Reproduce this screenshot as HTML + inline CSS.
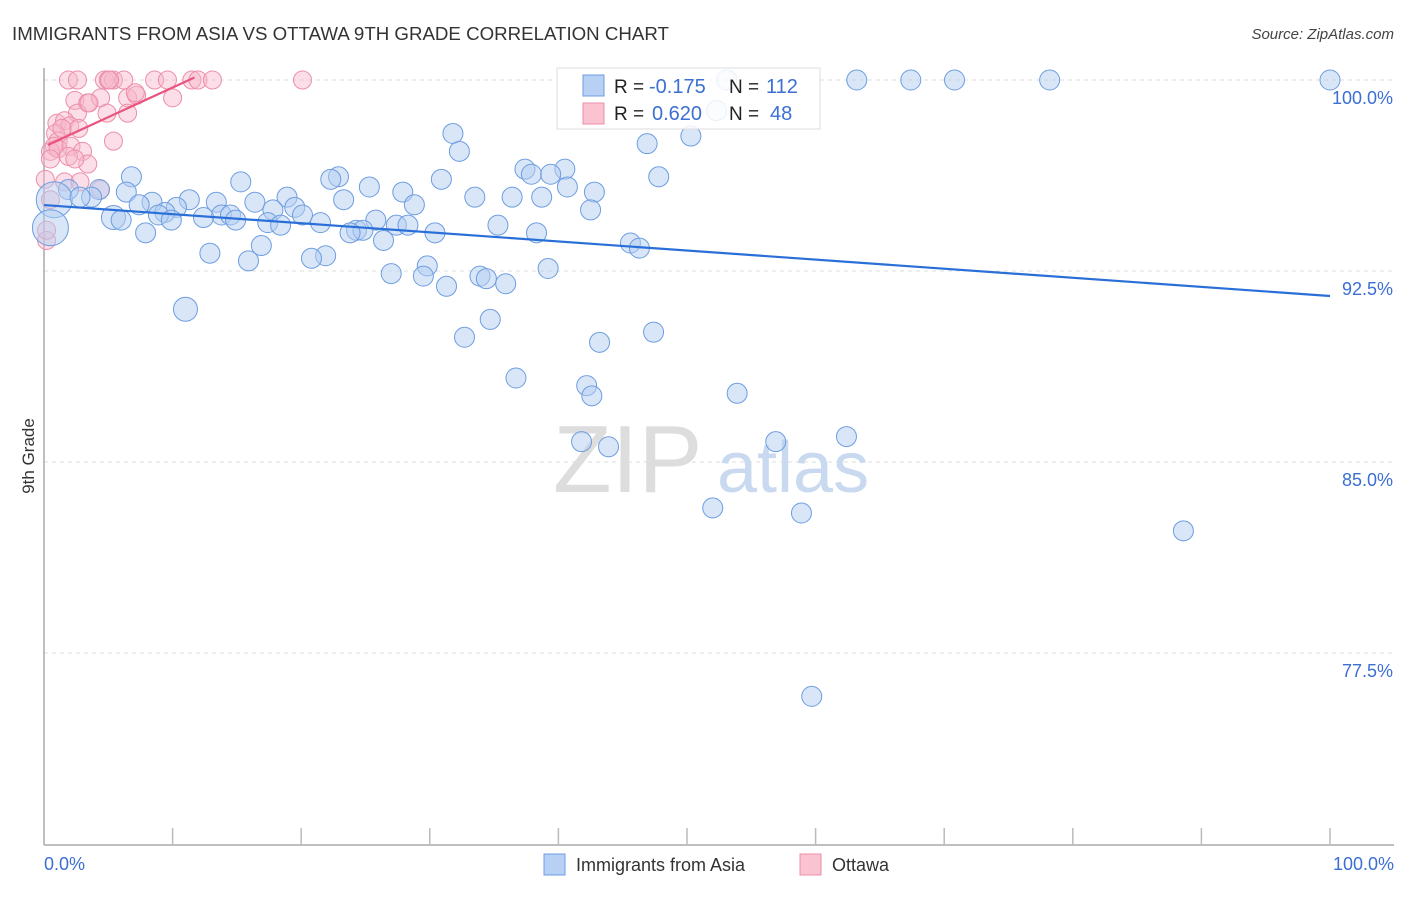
<!DOCTYPE html>
<html><head><meta charset="utf-8"><style>
body{margin:0;background:#fff;font-family:"Liberation Sans",sans-serif;}
svg text{font-family:"Liberation Sans",sans-serif;}
</style></head><body>
<svg id="chart" width="1406" height="892" xmlns="http://www.w3.org/2000/svg">
<text x="12" y="40" font-size="18.7" fill="#333">IMMIGRANTS FROM ASIA VS OTTAWA 9TH GRADE CORRELATION CHART</text>
<text x="1394" y="39" font-size="15" fill="#444" font-style="italic" text-anchor="end">Source: ZipAtlas.com</text>
<g id="grid"></g>
<g id="yticks"></g>
<text x="553" y="492" font-size="96" fill="#ddd" font-family="Liberation Serif,serif">ZIP</text>
<text x="717" y="492" font-size="72" fill="#c9d9f0">atlas</text>
<line x1="44" y1="68" x2="44" y2="845" stroke="#aaa" stroke-width="1.5"/>
<line x1="44" y1="845" x2="1394" y2="845" stroke="#aaa" stroke-width="1.5"/>
<g id="xticks"></g>
<g id="pts"></g>
<g id="lines"></g>
<text transform="translate(34,456) rotate(-90)" font-size="17" fill="#333" text-anchor="middle">9th Grade</text>
<text x="44" y="870" font-size="18" fill="#3b6fd4">0.0%</text>
<text x="1394" y="870" font-size="18" fill="#3b6fd4" text-anchor="end">100.0%</text>
<g>
<rect x="557" y="68" width="263" height="61" fill="#fff" fill-opacity="0.85" stroke="#ddd"/>
<rect x="583" y="75" width="21" height="21" fill="#b8d0f3" stroke="#6d9de0"/>
<rect x="583" y="103" width="21" height="21" fill="#f9c3d2" stroke="#ec8eaa"/>
<text x="614" y="93" font-size="19" fill="#222">R = </text><text x="649" y="93" font-size="20" fill="#3b6fd4">-0.175</text>
<text x="729" y="93" font-size="19" fill="#222">N = </text><text x="766" y="93" font-size="20" fill="#3b6fd4">112</text>
<text x="614" y="120" font-size="19" fill="#222">R = </text><text x="652" y="120" font-size="20" fill="#3b6fd4">0.620</text>
<text x="729" y="120" font-size="19" fill="#222">N = </text><text x="770" y="120" font-size="20" fill="#3b6fd4">48</text>
</g>
<g>
<rect x="544" y="854" width="21" height="21" fill="#b8d0f3" stroke="#6d9de0"/>
<text x="576" y="871" font-size="18" fill="#333">Immigrants from Asia</text>
<rect x="800" y="854" width="21" height="21" fill="#f9c3d2" stroke="#ec8eaa"/>
<text x="832" y="871" font-size="18" fill="#333">Ottawa</text>
</g>
</svg>
<script>
const yTicks=[100,92.5,85,77.5];
const yTickLabels=["100.0%","92.5%","85.0%","77.5%"];
const blueX=[100,78.2,70.8,67.4,63.2,53.1,52.3,50.3,46.9,31.8,32.3,37.4,40.5,37.9,39.4,47.8,30.9,22.9,22.3,6.8,15.3,25.3,40.7,27.9,42.8,6.4,4.3,1.9,0.8,33.5,36.4,38.7,18.9,16.4,23.3,28.8,11.3,13.4,8.4,10.3,7.4,3.7,2.8,19.5,17.8,20.1,42.5,9.4,8.9,13.8,14.5,12.4,9.9,14.9,5.4,6.0,21.5,25.8,17.4,18.4,27.4,28.3,35.3,24.3,24.8,23.8,7.9,30.4,38.3,26.4,45.6,46.3,16.9,12.9,15.9,21.9,20.8,29.8,39.2,27.0,29.5,33.9,34.4,31.3,35.9,11.0,34.7,32.7,47.4,43.2,36.7,42.2,42.6,53.9,41.8,43.9,56.9,62.4,52.0,58.9,88.6,59.7,0.5];
const blueY=[100,100,100,100,100,100,98.8,97.8,97.5,97.9,97.2,96.5,96.5,96.3,96.3,96.2,96.1,96.2,96.1,96.2,96.0,95.8,95.8,95.6,95.6,95.6,95.7,95.7,95.3,95.4,95.4,95.4,95.4,95.2,95.3,95.1,95.3,95.2,95.2,95.0,95.1,95.4,95.4,95.0,94.9,94.7,94.9,94.8,94.7,94.7,94.7,94.6,94.5,94.5,94.6,94.5,94.4,94.5,94.4,94.3,94.3,94.3,94.3,94.1,94.1,94.0,94.0,94.0,94.0,93.7,93.6,93.4,93.5,93.2,92.9,93.1,93.0,92.7,92.6,92.4,92.3,92.3,92.2,91.9,92.0,91.0,90.6,89.9,90.1,89.7,88.3,88.0,87.6,87.7,85.8,85.6,85.8,86.0,83.2,83.0,82.3,75.8,94.2];
const blueBig=[28,102];
const pinkX=[1.9,2.6,4.7,5.4,5.0,6.2,8.6,9.6,11.5,11.97,13.1,20.1,5.1,2.4,3.4,4.4,6.5,7.2,10.0,7.1,2.6,3.5,4.9,6.5,1.0,1.6,2.0,2.7,0.9,1.1,1.4,0.8,0.5,1.1,2.1,3.0,5.4,0.5,3.4,1.9,0.1,1.6,2.8,0.5,0.2,0.2,4.4,2.4];
const pinkY=[100,100,100,100,100,100,100,100,100,100,100,100,100,99.2,99.1,99.3,99.3,99.4,99.3,99.5,98.7,99.1,98.7,98.7,98.3,98.4,98.2,98.1,97.9,97.6,98.1,97.4,97.2,97.3,97.4,97.2,97.6,96.9,96.7,97.0,96.1,96.0,96.0,95.3,93.7,94.1,95.7,96.9];
const blueTrend=[[0,95.09],[100,91.52]];
const pinkTrend=[[0.3,97.45],[11.7,100.1]];
const NS="http://www.w3.org/2000/svg";
const sx=v=>44+v*12.86, sy=v=>80+(100-v)*25.47;
function mk(tag,attrs,parent){const e=document.createElementNS(NS,tag);for(const k in attrs)e.setAttribute(k,attrs[k]);parent.appendChild(e);return e;}
const grid=document.getElementById('grid'),yt=document.getElementById('yticks'),xt=document.getElementById('xticks'),pts=document.getElementById('pts'),ln=document.getElementById('lines');
yTicks.forEach((t,i)=>{
 const g=mk('line',{x1:44,x2:1394,y1:sy(t),y2:sy(t),stroke:'#ddd','stroke-dasharray':'4,4'},grid);
 
 
 const tx=mk('text',{x:1393,y:sy(t)+24,'font-size':18,fill:'#3b6fd4','text-anchor':'end'},yt);
 tx.textContent=yTickLabels[i];
 
 
});
for(let i=1;i<=10;i++){
 const l=mk('line',{x1:sx(i*10),x2:sx(i*10),y1:828,y2:845,stroke:'#bbb','stroke-width':1.5},xt);
 
 
}
pinkX.forEach((x,i)=>{
 const c=mk('circle',{cx:sx(x),cy:sy(pinkY[i]),r:9,fill:'#f7b6c9','fill-opacity':0.45,stroke:'#ec8eaa','stroke-width':1},pts);
 
 
});
blueX.forEach((x,i)=>{
 const r=blueBig.includes(i)?18:(i==85||i==54?12:10);
 const c=mk('circle',{cx:sx(x),cy:sy(blueY[i]),r:r,fill:'#b3cdf2','fill-opacity':0.5,stroke:'#6d9de0','stroke-width':1},pts);
 
 
});
const bl=mk('line',{x1:sx(blueTrend[0][0]),y1:sy(blueTrend[0][1]),x2:sx(blueTrend[1][0]),y2:sy(blueTrend[1][1]),stroke:'#2a6fd8','stroke-width':2.2},ln);


const pl=mk('line',{x1:sx(pinkTrend[0][0]),y1:sy(pinkTrend[0][1]),x2:sx(pinkTrend[1][0]),y2:sy(pinkTrend[1][1]),stroke:'#e8557f','stroke-width':2.2},ln);


</script>
</body></html>
